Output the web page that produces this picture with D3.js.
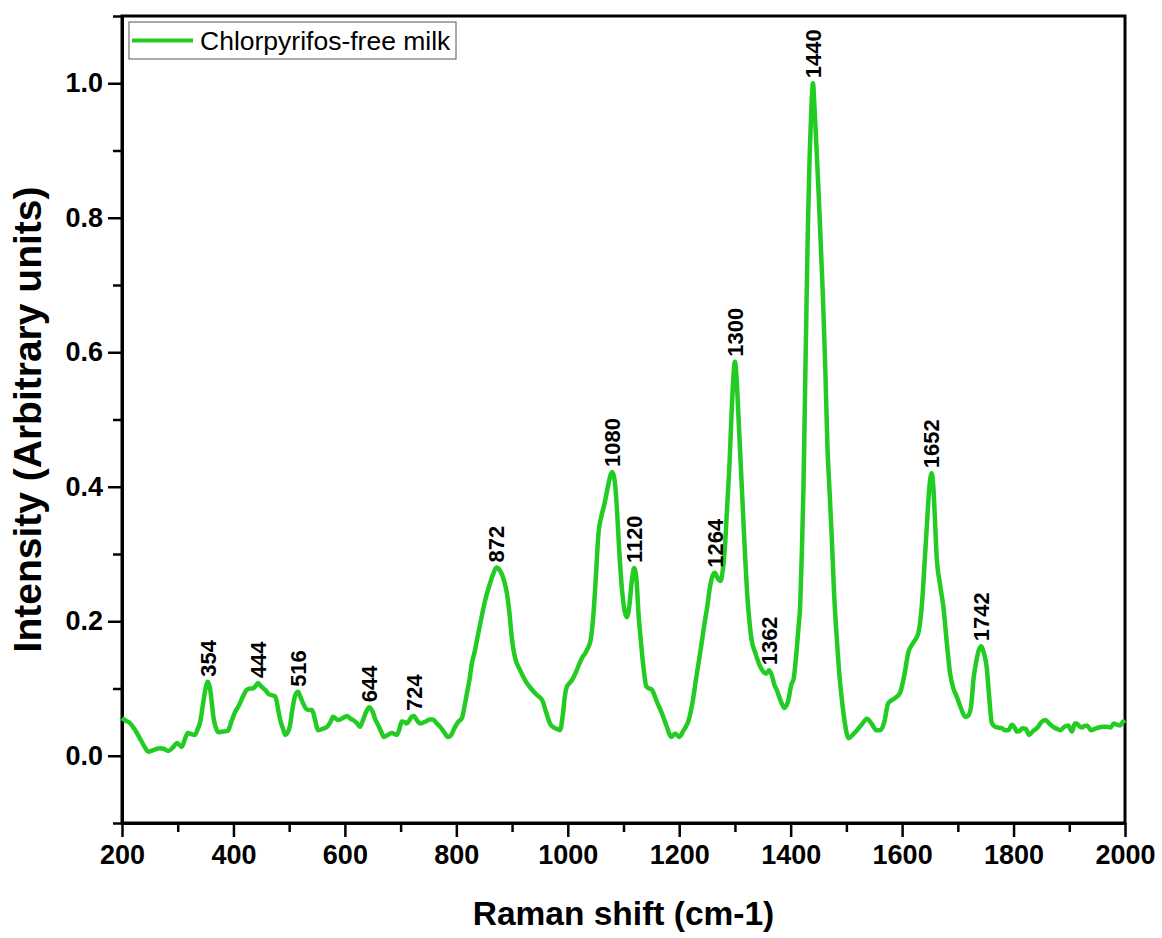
<!DOCTYPE html>
<html>
<head>
<meta charset="utf-8">
<script src="https://cdn.jsdelivr.net/npm/d3@7/dist/d3.min.js"></script>
<style>
  html, body { margin: 0; padding: 0; background: #fff; }
  svg { display: block; }
</style>
</head>
<body>
<svg id="chart" width="1162" height="938"></svg>
<script>
// Raman spectrum of chlorpyrifos-free milk (normalised intensity)
const ramanShift = [
  200, 207, 214, 222, 232, 240, 247, 258, 268, 276, 283, 291, 299, 307, 313, 318, 325, 331, 336, 340,
  345, 350, 354, 358, 361, 364, 368, 373, 382, 390, 396, 403, 410, 417, 424, 430, 435, 440, 444, 450,
  457, 463, 469, 475, 480, 484, 489, 493, 497, 501, 506, 511, 516, 520, 525, 530, 534, 541, 546, 552,
  560, 568, 574, 579, 584, 588, 596, 604, 610, 615, 621, 627, 632, 638, 644, 650, 655, 660, 665, 670,
  677, 684, 693, 698, 702, 707, 711, 716, 720, 724, 729, 735, 745, 752, 758, 765, 771, 778, 785, 790,
  796, 803, 810, 815, 819, 824, 828, 833, 837, 845, 852, 860, 866, 872, 878, 884, 890, 895, 900, 905,
  914, 923, 934, 945, 954, 961, 968, 975, 980, 986, 991, 995, 998, 1003, 1008, 1015, 1021, 1026, 1031, 1036,
  1041, 1045, 1050, 1055, 1060, 1066, 1072, 1077, 1080, 1084, 1088, 1092, 1097, 1102, 1106, 1110, 1115, 1119, 1123, 1127,
  1131, 1136, 1141, 1146, 1151, 1160, 1169, 1177, 1186, 1193, 1200, 1208, 1217, 1224, 1230, 1236, 1241, 1246, 1250, 1255,
  1260, 1264, 1269, 1274, 1278, 1282, 1286, 1290, 1294, 1297, 1300, 1303, 1306, 1310, 1314, 1318, 1322, 1326, 1330, 1337,
  1344, 1351, 1356, 1361, 1366, 1371, 1375, 1382, 1389, 1395, 1402, 1405, 1410, 1414, 1417, 1420, 1423, 1426, 1428, 1431,
  1434, 1437, 1440, 1443, 1446, 1450, 1454, 1458, 1462, 1466, 1470, 1474, 1478, 1483, 1488, 1492, 1497, 1504, 1510, 1519,
  1528, 1537, 1545, 1554, 1561, 1568, 1575, 1586, 1596, 1604, 1611, 1620, 1629, 1636, 1641, 1645, 1649, 1653, 1656, 1659,
  1662, 1668, 1674, 1680, 1686, 1692, 1698, 1706, 1713, 1719, 1724, 1728, 1733, 1738, 1742, 1746, 1752, 1756, 1761, 1767,
  1772, 1779, 1785, 1791, 1797, 1802, 1806, 1811, 1816, 1822, 1828, 1834, 1843, 1850, 1857, 1864, 1871, 1878, 1884, 1891,
  1898, 1905, 1910, 1913, 1918, 1922, 1927, 1932, 1939, 1946, 1953, 1960, 1967, 1974, 1980, 1986, 1991, 1996, 2000
];

const intensity = [
  0.056, 0.052, 0.049, 0.040, 0.026, 0.014, 0.006, 0.009, 0.011, 0.010, 0.007, 0.012, 0.019, 0.013, 0.025, 0.034, 0.032, 0.031, 0.040, 0.049,
  0.075, 0.100, 0.110, 0.100, 0.080, 0.058, 0.043, 0.035, 0.036, 0.037, 0.050, 0.065, 0.075, 0.088, 0.098, 0.100, 0.100, 0.104, 0.108, 0.103,
  0.098, 0.092, 0.090, 0.088, 0.070, 0.053, 0.040, 0.031, 0.034, 0.043, 0.070, 0.090, 0.095, 0.088, 0.078, 0.070, 0.068, 0.068, 0.055, 0.038,
  0.040, 0.043, 0.050, 0.058, 0.055, 0.053, 0.056, 0.059, 0.055, 0.053, 0.049, 0.043, 0.052, 0.065, 0.072, 0.065, 0.053, 0.045, 0.036, 0.028,
  0.031, 0.034, 0.031, 0.040, 0.051, 0.050, 0.048, 0.053, 0.058, 0.059, 0.053, 0.048, 0.051, 0.054, 0.054, 0.048, 0.043, 0.035, 0.028, 0.030,
  0.040, 0.050, 0.056, 0.075, 0.093, 0.115, 0.138, 0.155, 0.172, 0.205, 0.232, 0.255, 0.270, 0.280, 0.276, 0.265, 0.245, 0.215, 0.172, 0.147,
  0.128, 0.113, 0.100, 0.090, 0.083, 0.065, 0.048, 0.042, 0.040, 0.038, 0.060, 0.090, 0.102, 0.108, 0.113, 0.125, 0.137, 0.146, 0.152, 0.160,
  0.172, 0.200, 0.260, 0.330, 0.355, 0.375, 0.400, 0.418, 0.422, 0.410, 0.370, 0.310, 0.250, 0.215, 0.206, 0.220, 0.260, 0.279, 0.265, 0.210,
  0.172, 0.130, 0.103, 0.100, 0.098, 0.080, 0.063, 0.045, 0.028, 0.033, 0.028, 0.038, 0.053, 0.080, 0.113, 0.145, 0.172, 0.200, 0.220, 0.250,
  0.268, 0.272, 0.264, 0.260, 0.275, 0.310, 0.370, 0.430, 0.510, 0.560, 0.586, 0.560, 0.510, 0.440, 0.370, 0.300, 0.240, 0.200, 0.172, 0.152,
  0.135, 0.125, 0.122, 0.127, 0.120, 0.105, 0.098, 0.082, 0.071, 0.080, 0.108, 0.113, 0.150, 0.190, 0.222, 0.300, 0.400, 0.550, 0.650, 0.790,
  0.890, 0.960, 1.000, 0.960, 0.910, 0.840, 0.760, 0.680, 0.580, 0.460, 0.390, 0.320, 0.240, 0.172, 0.115, 0.083, 0.050, 0.026, 0.030, 0.038,
  0.047, 0.055, 0.048, 0.038, 0.038, 0.050, 0.078, 0.085, 0.093, 0.120, 0.153, 0.168, 0.182, 0.230, 0.296, 0.350, 0.400, 0.420, 0.400, 0.350,
  0.296, 0.255, 0.222, 0.170, 0.123, 0.100, 0.088, 0.070, 0.058, 0.060, 0.075, 0.113, 0.140, 0.158, 0.163, 0.155, 0.130, 0.090, 0.049, 0.043,
  0.042, 0.041, 0.038, 0.038, 0.046, 0.042, 0.036, 0.037, 0.041, 0.040, 0.031, 0.036, 0.042, 0.050, 0.053, 0.048, 0.043, 0.040, 0.038, 0.043,
  0.045, 0.036, 0.048, 0.048, 0.044, 0.042, 0.044, 0.045, 0.038, 0.040, 0.042, 0.043, 0.043, 0.042, 0.048, 0.046, 0.045, 0.050, 0.053
];

// Annotated band positions (cm-1)
const peakPositions = [354, 444, 516, 644, 724, 872, 1080, 1120, 1264, 1300, 1362, 1440, 1652, 1742];

const xTicks = [200, 400, 600, 800, 1000, 1200, 1400, 1600, 1800, 2000];
const yTicks = [0.0, 0.2, 0.4, 0.6, 0.8, 1.0];

const seriesName = "Chlorpyrifos-free milk";
const xTitle = "Raman shift (cm-1)";
const yTitle = "Intensity (Arbitrary units)";

const data = ramanShift.map((s, i) => ({ s, v: intensity[i] }));

const W = 1162, H = 938;
const margin = { top: 16, right: 37, bottom: 115, left: 122 };
const svg = d3.select("#chart");

const x = d3.scaleLinear().domain([200, 2000]).range([margin.left, W - margin.right]);
const y = d3.scaleLinear().domain([-0.1, 1.1]).range([H - margin.bottom, margin.top]);

const lineColor = "#22cc22";
const fontFamily = "'Liberation Sans', Arial, sans-serif";

// Frame (top and right)
svg.append("rect")
  .attr("x", x(200)).attr("y", y(1.1))
  .attr("width", x(2000) - x(200)).attr("height", y(-0.1) - y(1.1))
  .attr("fill", "none").attr("stroke", "#000").attr("stroke-width", 3);

// Bottom axis with major and minor ticks
const xMinor = d3.range(300, 2000, 200);
const gx = svg.append("g").attr("transform", `translate(0,${y(-0.1)})`);
gx.call(d3.axisBottom(x).tickValues(xMinor).tickSize(9).tickSizeOuter(0).tickFormat(""));
gx.call(g => g.selectAll(".domain").remove());
const gx2 = svg.append("g").attr("transform", `translate(0,${y(-0.1)})`);
gx2.call(d3.axisBottom(x).tickValues(xTicks).tickSize(14).tickSizeOuter(0).tickPadding(8).tickFormat(d3.format("d")));
gx2.select(".domain").attr("stroke-width", 3);

// Left axis with major and minor ticks
const yMinor = d3.range(-0.1, 1.15, 0.2);
const gy = svg.append("g").attr("transform", `translate(${x(200)},0)`);
gy.call(d3.axisLeft(y).tickValues(yMinor).tickSize(9).tickSizeOuter(0).tickFormat(""));
gy.call(g => g.selectAll(".domain").remove());
const gy2 = svg.append("g").attr("transform", `translate(${x(200)},0)`);
gy2.call(d3.axisLeft(y).tickValues(yTicks).tickSize(14).tickSizeOuter(0).tickPadding(5).tickFormat(d3.format(".1f")));
gy2.select(".domain").attr("stroke-width", 3);

svg.selectAll(".tick line").attr("stroke", "#000").attr("stroke-width", 2.5);
svg.selectAll(".tick text")
  .attr("fill", "#000")
  .style("font-family", fontFamily)
  .style("font-weight", "bold")
  .style("font-size", "27px");

// Spectrum
const line = d3.line().x(d => x(d.s)).y(d => y(d.v)).curve(d3.curveMonotoneX);
svg.append("path")
  .datum(data)
  .attr("fill", "none")
  .attr("stroke", lineColor)
  .attr("stroke-width", 4.5)
  .attr("stroke-linejoin", "round")
  .attr("d", line);

// Peak labels, rotated, just above each band maximum
const bisect = d3.bisector(d => d.s).center;
svg.append("g").selectAll("text")
  .data(peakPositions)
  .join("text")
  .attr("transform", p => {
    const d = data[bisect(data, p)];
    return `translate(${x(p)},${y(d.v) - 5}) rotate(-90)`;
  })
  .attr("dy", "0.35em")
  .attr("text-anchor", "start")
  .style("font-family", fontFamily)
  .style("font-weight", "bold")
  .style("font-size", "22px")
  .text(p => p);

// Legend
const lg = svg.append("g");
lg.append("rect")
  .attr("x", 129).attr("y", 22).attr("width", 327).attr("height", 37)
  .attr("fill", "#fff").attr("stroke", "#555").attr("stroke-width", 1);
lg.append("line")
  .attr("x1", 132).attr("x2", 193).attr("y1", 40.5).attr("y2", 40.5)
  .attr("stroke", lineColor).attr("stroke-width", 4);
lg.append("text")
  .attr("x", 200).attr("y", 40.5).attr("dy", "0.35em")
  .style("font-family", fontFamily)
  .style("font-size", "26.5px")
  .text(seriesName);

// Axis titles
svg.append("text")
  .attr("x", (x(200) + x(2000)) / 2).attr("y", 925)
  .attr("text-anchor", "middle")
  .style("font-family", fontFamily)
  .style("font-weight", "bold")
  .style("font-size", "33.5px")
  .text(xTitle);

svg.append("text")
  .attr("transform", `translate(41,${(y(-0.1) + y(1.1)) / 2}) rotate(-90)`)
  .attr("text-anchor", "middle")
  .style("font-family", fontFamily)
  .style("font-weight", "bold")
  .style("font-size", "39px")
  .text(yTitle);
</script>
</body>
</html>
